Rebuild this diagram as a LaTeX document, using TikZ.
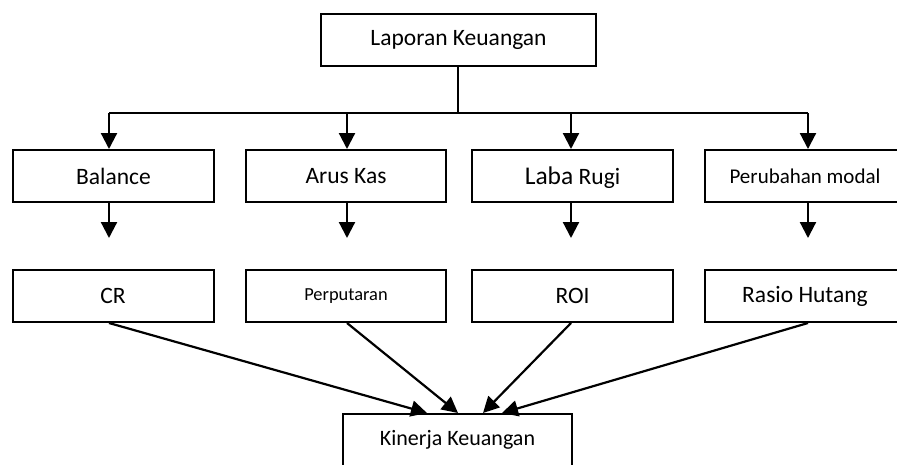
\documentclass[tikz,border=0pt]{standalone}
\usepackage{fontspec}
\setmainfont{Carlito}
\usetikzlibrary{arrows.meta}

\begin{document}
\begin{tikzpicture}[x=1pt, y=-1pt,
	box/.style={draw, line width=2pt, rectangle, minimum width=201pt, minimum height=52pt, inner sep=0pt, font=\fontsize{23.5}{28}\selectfont},
	arr/.style={line width=2.2pt, -{Triangle[width=16pt,length=16pt]}}]
	\useasboundingbox (0,0) rectangle (897,464);

	% Define the nodes with specific positions
	\node[box, minimum width=275pt] (lap) at (458.5, 40) {Laporan Keuangan};

	\node[box] (bal) at (113.5, 176) {Balance};
	\node[box, minimum width=200pt] (arus) at (346, 176) {Arus Kas};
	\node[box, text depth=0pt] (laba) at (572.5, 176) {{\fontsize{25.5}{28}\selectfont Laba} Rugi};
	\node[box] (pmod) at (805, 176) {\fontsize{21}{26}\selectfont Perubahan modal};

	\node[box] (cr) at (113, 296) {CR};
	\node[box, minimum width=200pt] (putar) at (346, 296) {\fontsize{18.4}{22}\selectfont Perputaran};
	\node[box] (roi) at (572.5, 296) {ROI};
	\node[box] (rasio) at (805, 296) {Rasio Hutang};

	\node[box, minimum width=229pt, font=\fontsize{22}{26}\selectfont] (kin) at (457.5, 440) {Kinerja Keuangan};

	% Bus below the top box
	\coordinate (bus) at (458, 113);
	\coordinate (b1) at (109, 113);
	\coordinate (b2) at (347, 113);
	\coordinate (b3) at (571, 113);
	\coordinate (b4) at (808, 113);

	% Free ends of the short arrows
	\coordinate (g1) at (109, 238);
	\coordinate (g2) at (347, 238);
	\coordinate (g3) at (571, 238);
	\coordinate (g4) at (808, 238);

	% Targets on the bottom box
	\coordinate (k1) at (427, 413);
	\coordinate (k2) at (458, 413);
	\coordinate (k3) at (483, 413);
	\coordinate (k4) at (502, 413);

	% Draw the edges between nodes
	\draw[line width=2pt] (lap.south -| bus) -- (bus);
	\draw[line width=2pt] (b1) -- (b4);
	\draw[arr] (b1) -- (b1 |- bal.north);
	\draw[arr] (b2) -- (b2 |- arus.north);
	\draw[arr] (b3) -- (b3 |- laba.north);
	\draw[arr] (b4) -- (b4 |- pmod.north);

	\draw[arr] (g1 |- bal.south) -- (g1);
	\draw[arr] (g2 |- arus.south) -- (g2);
	\draw[arr] (g3 |- laba.south) -- (g3);
	\draw[arr] (g4 |- pmod.south) -- (g4);

	\draw[arr] (g1 |- cr.south) -- (k1);
	\draw[arr] (g2 |- putar.south) -- (k2);
	\draw[arr] (g3 |- roi.south) -- (k3);
	\draw[arr] (g4 |- rasio.south) -- (k4);
\end{tikzpicture}
\end{document}
